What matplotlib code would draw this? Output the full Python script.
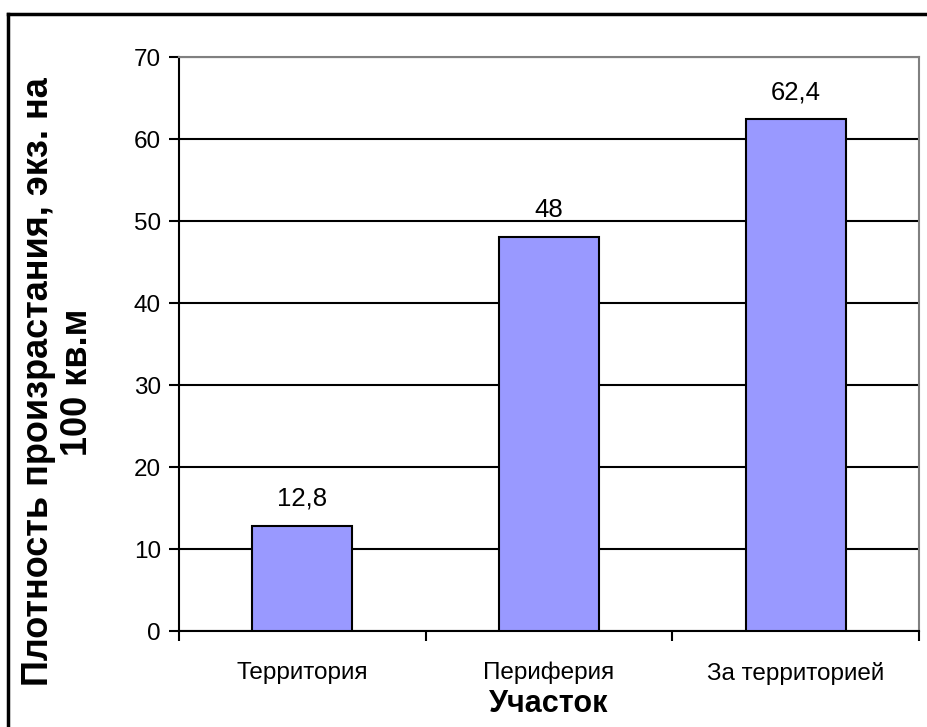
import matplotlib.pyplot as plt
from matplotlib.lines import Line2D

plt.rcParams['font.family'] = ['Liberation Sans', 'DejaVu Sans']

categories = ['Территория', 'Периферия', 'За территорией']
values = [12.8, 48, 62.4]
yticks = [0, 10, 20, 30, 40, 50, 60, 70]

fig = plt.figure(figsize=(9.27, 7.27), dpi=100)
ax = fig.add_axes([179 / 927, 96 / 727, 740 / 927, 574 / 727])

x = range(len(categories))
bars = ax.bar(x, values, width=0.405, color='#9999FF', edgecolor='black',
              linewidth=1.5, zorder=3)
for b, v in zip(bars, values):
    ax.text(b.get_x() + b.get_width() / 2, v + 2.45, f"{v:g}".replace('.', ','),
            ha='center', va='baseline', fontsize=18.5)

ax.set_xlim(-0.5, len(categories) - 0.5)
ax.set_ylim(0, 70)
ax.set_yticks(yticks)
ax.yaxis.grid(True, color='black', linewidth=1.5, zorder=0)
ax.set_axisbelow(True)

# category ticks on boundaries, labels centred
ax.set_xticks([i - 0.5 for i in range(len(categories) + 1)])
ax.set_xticklabels([])
ax.set_xticks(list(x), minor=True)
ax.set_xticklabels(categories, minor=True, fontsize=17.5)
ax.tick_params(axis='x', which='minor', length=0, pad=22)
ax.tick_params(axis='x', which='major', length=7, width=1.5, direction='out')
ax.tick_params(axis='y', length=7, width=1.5, labelsize=17.5, pad=6)

for s in ['left', 'bottom']:
    ax.spines[s].set_linewidth(1.5)
    ax.spines[s].set_color('black')
for s in ['top', 'right']:
    ax.spines[s].set_linewidth(1.5)
    ax.spines[s].set_color('#808080')

fig.text(549 / 927, 1 - 704 / 727, 'Участок', fontsize=22, fontweight='bold',
         ha='center', va='center')
fig.text(58 / 927, 1 - 382 / 727, 'Плотность произрастания, экз. на\n100 кв.м',
         fontsize=26, fontweight='bold', rotation=90, ha='center', va='center',
         multialignment='center', linespacing=1.12)

# outer chart frame
fig.add_artist(Line2D([8 / 927, 8 / 927], [0, 1 - 14 / 727], color='black', lw=2.5))
fig.add_artist(Line2D([8 / 927, 1], [1 - 14 / 727, 1 - 14 / 727], color='black', lw=2.5))

fig.savefig('out.png', dpi=100)
